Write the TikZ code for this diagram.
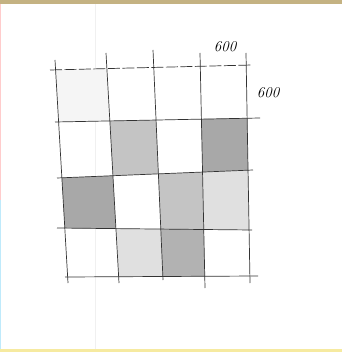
\documentclass[tikz,border=0pt]{standalone}
\usepackage{xcolor}
\usetikzlibrary{calc}
\definecolor{scantop}{RGB}{196,178,130}
\definecolor{scanbottom}{RGB}{246,234,160}

\begin{document}
\begin{tikzpicture}[
    x=1pt, y=-1pt,
    every node/.style={font=\fontsize{15}{15}\selectfont\itshape},
    grid/.style={line width=0.7pt, black!80},
    topline/.style={grid, dash pattern=on 12pt off 2.5pt},
    dark/.style={fill=gray!68},
    mid/.style={fill=gray!46},
    darkmid/.style={fill=gray!60},
    light/.style={fill=gray!24},
    pale/.style={fill=gray!8},
]
% Sheet of paper with the scanner edges
\fill[white] (0,0) rectangle (342,352);
\fill[scantop] (0,0) rectangle (342,4);
\fill[scanbottom] (0,349) rectangle (342,352);
\fill[red!20] (0,4) rectangle (1,200);
\fill[cyan!25] (0,200) rectangle (1,349);
\draw[black!6, line width=0.6pt] (95,4) -- (95,349);
\useasboundingbox (0,0) rectangle (342,352);

% End points of the hand drawn grid lines (slightly skewed)
\coordinate (v1t) at (55,60);  \coordinate (v1b) at (68,283);
\coordinate (v2t) at (106,53); \coordinate (v2b) at (119,283);
\coordinate (v3t) at (153,50); \coordinate (v3b) at (163,280);
\coordinate (v4t) at (200,53); \coordinate (v4b) at (205,288);
\coordinate (v5t) at (246,53); \coordinate (v5b) at (250,283);
\coordinate (h1l) at (50,70);  \coordinate (h1r) at (252,65);
\coordinate (h2l) at (55,122); \coordinate (h2r) at (260,118);
\coordinate (h3l) at (57,178); \coordinate (h3r) at (253,170);
\coordinate (h4l) at (57,228); \coordinate (h4r) at (252,230);
\coordinate (h5l) at (65,277); \coordinate (h5r) at (258,276);

% Corners of the cells: p<column><row>
\foreach \i in {1,...,5} {
  \foreach \j in {1,...,5} {
    \coordinate (p\i\j) at (intersection of v\i t--v\i b and h\j l--h\j r);
  }
}

% Shaded cells
\fill[pale] (p11) -- (p21) -- (p22) -- (p12) -- cycle;
\fill[mid] (p22) -- (p32) -- (p33) -- (p23) -- cycle;
\fill[dark] (p42) -- (p52) -- (p53) -- (p43) -- cycle;
\fill[dark] (p13) -- (p23) -- (p24) -- (p14) -- cycle;
\fill[mid] (p33) -- (p43) -- (p44) -- (p34) -- cycle;
\fill[light] (p43) -- (p53) -- (p54) -- (p44) -- cycle;
\fill[light] (p24) -- (p34) -- (p35) -- (p25) -- cycle;
\fill[darkmid] (p34) -- (p44) -- (p45) -- (p35) -- cycle;

% Visible lines
\foreach \k in {1,...,5} {
  \draw[grid] (v\k t) -- (v\k b);
}
\foreach \k in {2,...,5} {
  \draw[grid] (h\k l) -- (h\k r);
}
\draw[topline] (h1l) -- (h1r);

% Dimensions
\node (top) at (225,47) {600};
\node (side) at (268,93) {600};
\end{tikzpicture}
\end{document}
